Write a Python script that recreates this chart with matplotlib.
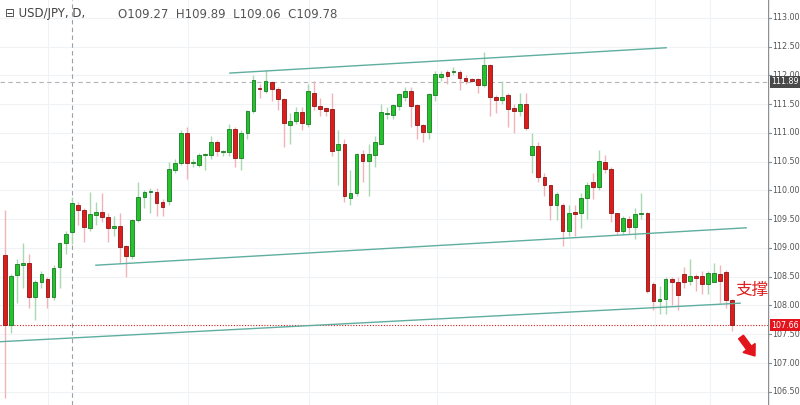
import matplotlib
matplotlib.use("Agg")
import matplotlib.pyplot as plt
import numpy as np
from matplotlib.patches import FancyArrow

plt.rcParams['font.family'] = ['DejaVu Sans', 'Noto Sans CJK SC']

opens = [108.88,107.66,108.53,108.70,108.73,108.15,108.41,108.46,108.15,108.67,109.08,109.27,109.75,109.66,109.35,109.57,109.63,109.53,109.35,109.39,
         109.03,108.86,109.49,109.88,109.97,109.97,109.80,109.82,110.35,110.48,110.99,110.47,110.44,110.61,110.62,110.85,110.67,110.66,111.06,110.57,
         110.99,111.38,111.77,111.72,111.89,111.76,111.59,111.14,111.20,111.36,111.15,111.69,111.46,111.44,111.41,110.70,110.80,109.86,109.96,110.63,
         110.51,110.62,110.81,111.32,111.31,111.47,111.63,111.72,111.49,111.14,111.01,111.65,111.98,112.05,112.05,112.06,111.96,111.93,111.93,111.84,
         112.18,111.62,111.58,111.66,111.44,111.38,111.51,110.62,110.77,110.24,110.10,109.75,109.75,109.29,109.62,109.61,109.86,110.15,110.06,110.49,
         110.37,109.60,109.30,109.50,109.37,109.59,109.61,108.37,108.07,108.12,108.46,108.41,108.55,108.43,108.51,108.51,108.37,108.41,108.55,108.58,
         108.10]
closes = [107.66,108.51,108.72,108.73,108.15,108.41,108.55,108.15,108.66,109.08,109.24,109.78,109.66,109.37,109.59,109.63,109.54,109.34,109.38,109.01,
          108.86,109.49,109.88,109.97,109.98,109.79,109.72,110.38,110.47,110.99,110.47,110.49,110.62,110.62,110.85,110.69,110.69,111.06,110.57,111.00,
          111.38,111.92,111.76,111.90,111.76,111.59,111.17,111.20,111.36,111.17,111.72,111.46,111.42,111.38,110.69,110.80,109.91,109.96,110.63,110.51,
          110.63,110.85,111.36,111.34,111.48,111.67,111.73,111.47,111.14,111.01,111.67,112.03,112.03,111.99,112.06,111.96,111.90,111.91,111.84,112.18,
          111.62,111.57,111.63,111.42,111.38,111.51,111.09,110.77,110.24,110.10,109.75,109.93,109.30,109.61,109.59,109.87,110.09,110.06,110.51,110.37,
          109.60,109.30,109.52,109.37,109.59,109.61,108.26,108.07,108.12,108.46,108.41,108.18,108.41,108.51,108.48,108.37,108.56,108.56,108.43,108.09,
          107.66]
highs = [109.66,108.55,108.80,109.08,108.90,108.45,108.60,108.50,108.70,109.10,109.30,109.89,109.80,109.70,109.97,109.80,109.95,109.60,109.55,109.60,
         109.05,109.50,110.15,110.00,110.05,110.05,109.85,110.50,110.55,111.05,111.10,110.55,110.65,110.65,110.95,110.87,110.70,111.15,111.10,111.05,
         111.40,112.00,111.85,112.10,111.90,111.80,111.60,111.35,111.45,111.45,111.85,111.90,111.60,111.45,111.70,111.05,110.90,110.35,110.65,110.70,
         110.80,110.95,111.50,111.45,111.50,111.70,111.80,111.80,111.50,111.15,111.70,112.08,112.08,112.10,112.15,112.10,112.00,111.95,111.95,112.40,
         112.20,111.65,111.90,111.70,111.50,111.70,111.70,111.00,110.85,110.30,110.10,109.98,109.78,109.75,109.75,109.95,110.15,110.30,110.70,110.62,
         110.40,109.60,109.55,109.55,109.70,109.95,109.63,108.40,108.33,108.50,108.50,108.50,108.67,108.80,108.55,108.60,108.60,108.73,108.70,108.62,
         108.12]
lows = [106.40,107.52,108.04,108.30,107.95,107.75,108.30,107.95,108.10,108.30,108.90,109.06,109.40,109.10,109.30,109.40,109.45,109.10,109.20,108.74,
        108.50,108.80,109.45,109.70,109.60,109.55,109.55,109.75,110.30,110.45,110.20,110.40,110.40,110.35,110.55,110.60,110.60,110.60,110.40,110.35,
        110.90,111.35,111.60,111.70,111.55,111.40,110.75,110.80,111.15,111.05,111.10,111.40,111.30,111.30,110.60,110.10,109.80,109.75,109.90,110.15,
        109.90,110.40,110.80,111.25,111.25,111.40,111.55,111.10,110.90,110.85,110.90,111.55,111.90,111.85,112.00,111.75,111.85,111.88,111.70,111.80,
        111.30,111.35,111.50,111.10,111.00,111.30,111.05,110.30,110.15,109.90,109.48,109.48,109.03,109.20,109.20,109.34,109.50,109.85,110.00,110.30,
        109.45,109.25,109.25,109.25,109.15,109.50,108.22,107.93,107.85,107.85,108.00,107.93,108.30,108.35,108.25,108.20,108.20,108.40,108.05,107.95,
        107.56]

yticks = [106.5, 107.0, 107.5, 108.0, 108.5, 109.0, 109.5, 110.0, 110.5, 111.0, 111.5, 112.0, 112.5, 113.0]
last_price = 107.66
cross_price = 111.89
lines = [((37.1, 112.04), (109.1, 112.48)),
         ((15.0, 108.70), (122.3, 109.35)),
         ((-0.83, 107.37), (121.3, 108.04))]

W, H = 800, 405
fig = plt.figure(figsize=(W/100, H/100), dpi=100)
ax = fig.add_axes([0, 0, 768/800, 1])
n = len(opens)
x = np.arange(n)
ax.set_xlim(-0.83, 125.9)
ax.set_ylim(106.27, 113.31)

for p in np.arange(106.5, 113.01, 0.5):
    ax.axhline(p, color='#f0f3f6', lw=0.8, zorder=0)
for px in [48, 188, 309, 437, 570, 655, 710]:
    ax.axvline((px-5)/6.06, color='#f0f3f6', lw=0.8, zorder=0)

o = np.array(opens); c = np.array(closes); h = np.array(highs); l = np.array(lows)
up = c >= o
wick_col = np.where(up, '#a9d9b0', '#f0b3ba')
ax.vlines(x, l, h, colors=wick_col, lw=1, zorder=2)
bottoms = np.minimum(o, c)
heights = np.maximum(np.abs(c - o), 0.02)
ax.bar(x[up], heights[up], bottom=bottoms[up], width=0.62, color='#22c32b', edgecolor='#1b7a24', lw=0.6, zorder=3)
ax.bar(x[~up], heights[~up], bottom=bottoms[~up], width=0.62, color='#dd1c1c', edgecolor='#8e1515', lw=0.6, zorder=3)

for (x0, y0), (x1, y1) in lines:
    ax.plot([x0, x1], [y0, y1], color='#5fae9f', lw=1, zorder=4)

ax.axvline(11, color='#9aa0a6', lw=0.8, ls=(0, (4, 3)), zorder=1)
ax.axhline(cross_price, color='#b0b4b8', lw=0.8, ls=(0, (4, 3)), zorder=1)
ax.axhline(last_price, color='#d01a1a', lw=0.8, ls=(0, (1, 1.5)), zorder=1)

for s in ax.spines.values():
    s.set_visible(False)
ax.set_xticks([]); ax.set_yticks([])

# right price axis
ax2 = fig.add_axes([768/800, 0, 32/800, 1])
ax2.patch.set_alpha(0)
ax2.set_ylim(106.27, 113.31); ax2.set_xlim(0, 1)
ax2.set_xticks([]); ax2.set_yticks([])
for s in ax2.spines.values():
    s.set_visible(False)
ax2.axvline(0, color='#8a8f94', lw=1)
for t in yticks:
    ax2.text(0.14, t, f'{t:.2f}', fontsize=5.8, color='#555', va='center', ha='left')
    ax2.plot([0, 0.08], [t, t], color='#8a8f94', lw=0.8)
ax2.text(0.1, cross_price, f'{cross_price:.2f}', fontsize=5.8, color='white', va='center', ha='left',
         bbox=dict(boxstyle='square,pad=0.2', fc='#4a4a4a', ec='none'), zorder=5)
ax2.text(0.1, last_price, f'{last_price:.2f}', fontsize=5.8, color='white', va='center', ha='left',
         bbox=dict(boxstyle='square,pad=0.2', fc='#e3141b', ec='none'), zorder=5)

fig.text(687/800 * 1.0 + 48/800, 1-290/405, '支撑', color='#e02020', fontsize=12,
         family=['Noto Sans CJK SC'], va='center', ha='left', zorder=6)
fig.patches.append(FancyArrow(741, 405-337, 14, -19, width=6, head_width=15, head_length=10,
                              length_includes_head=True, color='#e3141b', transform=None, figure=fig))

fig.text(5/800, 1-14/405, '⊟ USD/JPY, D,', fontsize=8.5, color='#444', va='center')
fig.text(118/800, 1-14/405, 'O109.27  H109.89  L109.06  C109.78', fontsize=8.5, color='#555', va='center')
fig.savefig('out.png', dpi=100, facecolor='white')
